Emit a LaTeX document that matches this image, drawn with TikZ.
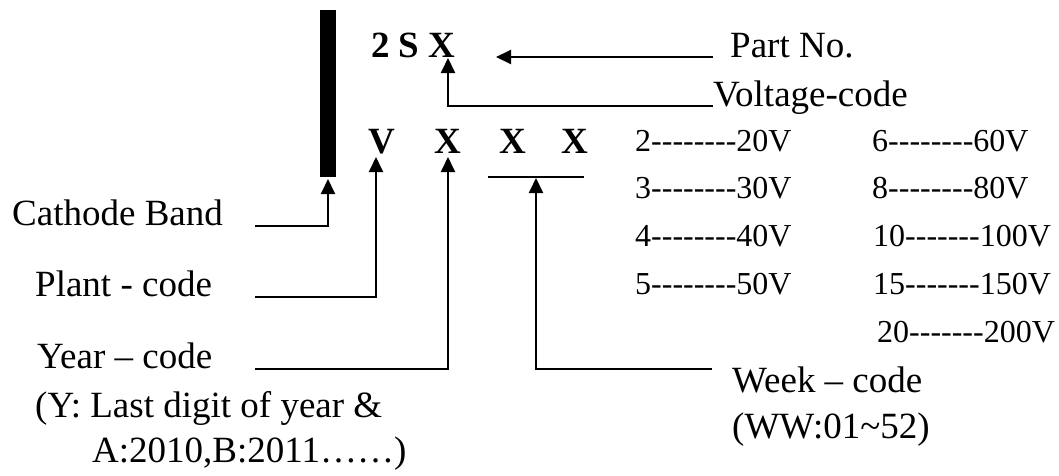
\documentclass[tikz,border=0pt]{standalone}
\usepackage{fontspec}
\setmainfont{Liberation Serif}[Ligatures=TeXOff]
\usetikzlibrary{arrows.meta}
\begin{document}
\begin{tikzpicture}[x=1pt,y=-1pt,
  conn/.style={line width=2pt},
  arr/.style={conn,-{Triangle[length=15pt,width=14pt]}},
  lbl/.style={anchor=base west,inner sep=0pt,font=\fontsize{37}{40}\selectfont},
  tab/.style={anchor=base west,inner sep=0pt,font=\fontsize{32}{36}\selectfont},
  code/.style={anchor=base,inner sep=0pt,font=\fontsize{37}{40}\selectfont\bfseries}]
\useasboundingbox (0,0) rectangle (1059,475);
% cathode bar
\node (bar) [fill=black,inner sep=0pt,minimum width=16pt,minimum height=167pt] at (328,93.5) {};
% codes
\node (part) [anchor=base west,inner sep=0pt,font=\fontsize{37}{40}\selectfont\bfseries] at (371,57) {2 S X};
\node (v)  [code] at (382,153) {V};
\node (x1) [code] at (448,153) {X};
\node (x2) [code] at (513,153) {X};
\node (x3) [code] at (575,153) {X};
% labels
\node (lpart) [lbl] at (730,57) {Part No.};
\node (lvolt) [lbl] at (713,106) {Voltage-code};
\node (lcath) [lbl] at (12,225) {Cathode Band};
\node (lplant) [lbl] at (35,296) {Plant - code};
\node (lyear) [lbl] at (37,368) {Year – code};
\node (lyear2) [lbl] at (35,417) {(Y: Last digit of year \&};
\node (lyear3) [lbl] at (92,462) {A:2010,B:2011……)};
\node (lweek) [lbl] at (732,392) {Week – code};
\node (lweek2) [lbl] at (732,438) {(WW:01\string~52)};
% voltage table
\node (t1) [tab] at (635,151) {2--------20V};
\node (t2) [tab] at (635,198) {3--------30V};
\node (t3) [tab] at (635,246) {4--------40V};
\node (t4) [tab] at (635,294) {5--------50V};
\node (t5) [tab] at (872,151) {6--------60V};
\node (t6) [tab] at (872,198) {8--------80V};
\node (t7) [tab] at (873,246) {10-------100V};
\node (t8) [tab] at (873,294) {15-------150V};
\node (t9) [tab] at (877,342) {20-------200V};
% connector coordinates
\coordinate (pS) at (713,57);   \coordinate (pT) at (496,57);
\coordinate (vS) at (713,106);  \coordinate (vC) at (448,106); \coordinate (vT) at (448,58);
\coordinate (cS) at (255,226);  \coordinate (cC) at (328,226); \coordinate (cT) at (328,179);
\coordinate (plS) at (255,297); \coordinate (plC) at (376,297); \coordinate (plT) at (376,157);
\coordinate (yS) at (255,369);  \coordinate (yC) at (448,369);  \coordinate (yT) at (448,157);
\coordinate (wS) at (712,369);  \coordinate (wC) at (536,369);  \coordinate (wT) at (536,178);
\coordinate (wbL) at (488,177); \coordinate (wbR) at (584,177);
% connectors
\draw[arr] (pS) -- (pT);
\draw[arr] (vS) -- (vC) -- (vT);
\draw[arr] (cS) -- (cC) -- (cT);
\draw[arr] (plS) -- (plC) -- (plT);
\draw[arr] (yS) -- (yC) -- (yT);
\draw[arr] (wS) -- (wC) -- (wT);
\draw[conn] (wbL) -- (wbR);
\end{tikzpicture}
\end{document}
